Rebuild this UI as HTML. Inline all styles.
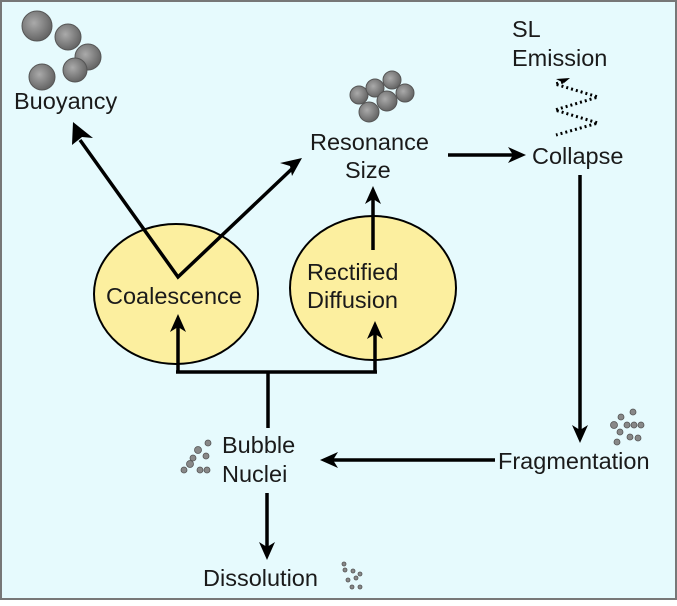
<!DOCTYPE html>
<html><head><style>
body{margin:0;background:#fff}
svg{display:block}
text{font-family:"Liberation Sans",sans-serif;fill:#1a1a1a}
</style></head><body>
<svg width="677" height="606" viewBox="0 0 677 606">
<defs>
<radialGradient id="b" cx="0.4" cy="0.4" r="0.6"><stop offset="0" stop-color="#aaa"/><stop offset="1" stop-color="#666"/></radialGradient>
</defs>
<rect x="1" y="1" width="675" height="598" fill="#e6fafd" stroke="#777" stroke-width="2"/>
<g fill="url(#b)" stroke="#555" stroke-width="1">
<circle cx="37" cy="26" r="15"/><circle cx="68" cy="37" r="13"/><circle cx="88" cy="57" r="13"/><circle cx="75" cy="70" r="12"/><circle cx="42" cy="77" r="13"/>
<circle cx="359" cy="95" r="9"/><circle cx="375" cy="88" r="9"/><circle cx="392" cy="80" r="9"/><circle cx="405" cy="93" r="9"/><circle cx="387" cy="101" r="10"/><circle cx="369" cy="112" r="10"/>
</g>
<g fill="#888" stroke="#555" stroke-width="0.8">
<circle cx="208" cy="443" r="3"/><circle cx="198" cy="450" r="3.5"/><circle cx="206" cy="456" r="3"/><circle cx="193" cy="458" r="3"/><circle cx="190" cy="464" r="3.5"/><circle cx="200" cy="470" r="3"/><circle cx="207" cy="470" r="3"/><circle cx="184" cy="470" r="3"/>
<circle cx="633" cy="412" r="3"/><circle cx="621" cy="417" r="3"/><circle cx="614" cy="425" r="3.5"/><circle cx="627" cy="425" r="3"/><circle cx="634" cy="425" r="3"/><circle cx="641" cy="425" r="3"/><circle cx="620" cy="432" r="3"/><circle cx="630" cy="437" r="3"/><circle cx="638" cy="438" r="3"/><circle cx="617" cy="442" r="3"/>
<circle cx="344" cy="564" r="2"/><circle cx="345" cy="570" r="2"/><circle cx="353" cy="571" r="2"/><circle cx="360" cy="574" r="2"/><circle cx="356" cy="578" r="2"/><circle cx="348" cy="580" r="2"/><circle cx="352" cy="587" r="2"/><circle cx="360" cy="587" r="2"/>
</g>
<path d="M563,82 L555,84 L598,97 L555,110 L598,123 L556,135" fill="none" stroke="#000" stroke-width="3" stroke-dasharray="2,3"/>
<path d="M556,79 L570,78 L564,83Z" fill="#000"/>
<ellipse cx="176" cy="294" rx="82" ry="70" fill="#fcef9f" stroke="#000" stroke-width="2"/>
<ellipse cx="373" cy="288" rx="83" ry="72" fill="#fcef9f" stroke="#000" stroke-width="2"/>
<g stroke="#000" stroke-width="3.5" fill="none">
<polyline points="80,140 178,277 296,165" stroke-linejoin="miter"/>
<line x1="373" y1="250" x2="373" y2="197"/>
<line x1="448" y1="155" x2="515" y2="155"/>
<line x1="580" y1="175" x2="580" y2="432"/>
<line x1="495" y1="460" x2="330" y2="460"/>
<line x1="268" y1="428" x2="268" y2="372"/>
<line x1="176" y1="372" x2="377" y2="372"/>
<line x1="178" y1="372" x2="178" y2="325"/>
<line x1="375" y1="372" x2="375" y2="332"/>
<line x1="267" y1="493" x2="267" y2="552"/>
</g>
<g fill="#000">
<path d="M73,122 L93,138 L82,137 L72,145Z"/>
<path d="M302,158 L292,176 L290,166 L280,163Z"/>
<path d="M373,186 L381,204 L373,199 L365,204Z"/>
<path d="M526,155 L508,147 L513,155 L508,163Z"/>
<path d="M580,443 L572,425 L580,430 L588,425Z"/>
<path d="M320,460 L338,452 L333,460 L338,468Z"/>
<path d="M178,314 L186,332 L178,327 L170,332Z"/>
<path d="M375,321 L383,339 L375,334 L367,339Z"/>
<path d="M267,560 L259,542 L267,547 L275,542Z"/>
</g>
<g font-size="23.5">
<text x="14" y="109">Buoyancy</text>
<text x="310" y="150">Resonance</text>
<text x="345" y="178">Size</text>
<text x="532" y="164">Collapse</text>
<text x="512" y="37">SL</text>
<text x="512" y="66">Emission</text>
<text x="106" y="304">Coalescence</text>
<text x="307" y="280">Rectified</text>
<text x="307" y="308">Diffusion</text>
<text x="222" y="453">Bubble</text>
<text x="222" y="482">Nuclei</text>
<text x="498" y="469">Fragmentation</text>
<text x="203" y="586">Dissolution</text>
</g>
</svg>
</body></html>
